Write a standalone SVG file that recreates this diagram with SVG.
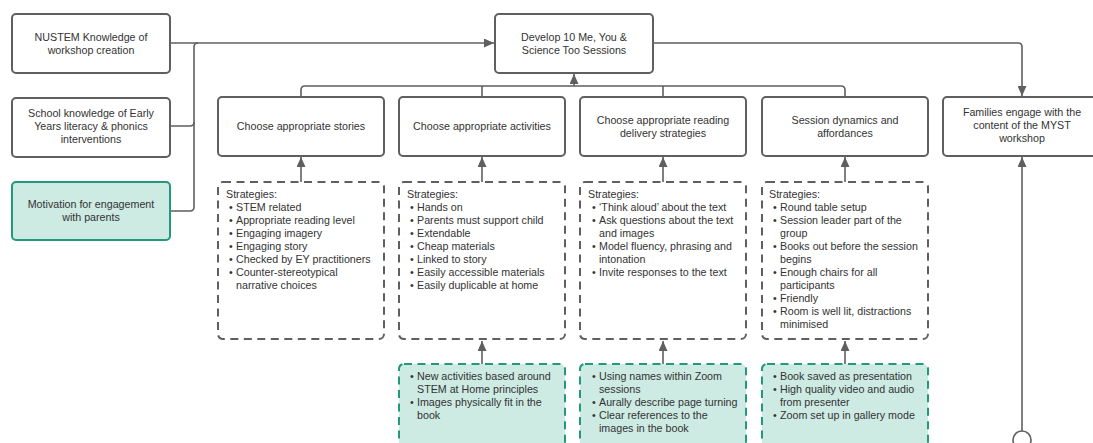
<svg xmlns="http://www.w3.org/2000/svg" width="1093" height="443" viewBox="0 0 1093 443">
<style>
.box{fill:#ffffff;stroke:#5f5f5f;stroke-width:2}
.teal{fill:#cdeae3;stroke:#23997c;stroke-width:2}
.dash{fill:#ffffff;stroke:#5f5f5f;stroke-width:2;stroke-dasharray:8 5.5}
.tdash{fill:#cdeae3;stroke:#23997c;stroke-width:2;stroke-dasharray:8 5.5}
text{font-family:"Liberation Sans",Arial,sans-serif;font-size:10.7px;fill:#333333}
.c{text-anchor:middle}
.con{fill:none;stroke:#5f5f5f;stroke-width:1.6}
</style>
<defs>
<marker id="arr" markerUnits="userSpaceOnUse" markerWidth="10" markerHeight="9" refX="10" refY="4.5" orient="auto">
<path d="M0,0 L10,4.5 L0,9 z" fill="#5f5f5f"/>
</marker>
</defs>
<g id="connectors">
<path class="con" d="M170,43 H494" marker-end="url(#arr)"/>
<path class="con" d="M170,126 H190 q4,0 4,-4 V47 q0,-4 4,-4"/>
<path class="con" d="M170,211 H190 q4,0 4,-4 V122"/>
<path class="con" d="M653,43 H1018 q4,0 4,4 V96" marker-end="url(#arr)"/>
<path class="con" d="M301,97 V90 q0,-4 4,-4 H841 q4,0 4,4 V97"/>
<path class="con" d="M482,97 V86"/>
<path class="con" d="M663,97 V86"/>
<path class="con" d="M574,86 V74" marker-end="url(#arr)"/>
<path class="con" d="M301,182 V157" marker-end="url(#arr)"/>
<path class="con" d="M482,182 V157" marker-end="url(#arr)"/>
<path class="con" d="M663,182 V157" marker-end="url(#arr)"/>
<path class="con" d="M845,182 V157" marker-end="url(#arr)"/>
<path class="con" d="M482,364 V341" marker-end="url(#arr)"/>
<path class="con" d="M663,364 V341" marker-end="url(#arr)"/>
<path class="con" d="M845,364 V341" marker-end="url(#arr)"/>
<path class="con" d="M1022,431 V157" marker-end="url(#arr)"/>
<circle cx="1022" cy="440" r="9" fill="#ffffff" stroke="#5f5f5f" stroke-width="1.6"/>
</g>
<g id="nustem">
<rect class="box" x="12" y="14" width="158" height="59" rx="4"/>
<text class="c" x="91" y="41">NUSTEM Knowledge of</text>
<text class="c" x="91" y="54">workshop creation</text>
</g>
<g id="school">
<rect class="box" x="12" y="98" width="158" height="59" rx="4"/>
<text class="c" x="91" y="117">School knowledge of Early</text>
<text class="c" x="91" y="130">Years literacy &amp; phonics</text>
<text class="c" x="91" y="143">interventions</text>
</g>
<g id="motivation">
<rect class="teal" x="12" y="182" width="158" height="58" rx="4"/>
<text class="c" x="91" y="208">Motivation for engagement</text>
<text class="c" x="91" y="221">with parents</text>
</g>
<g id="develop">
<rect class="box" x="495" y="14" width="158" height="59" rx="4"/>
<text class="c" x="574" y="41">Develop 10 Me, You &amp;</text>
<text class="c" x="574" y="54">Science Too Sessions</text>
</g>
<g id="stories">
<rect class="box" x="218" y="97" width="166" height="59" rx="4"/>
<text class="c" x="301" y="130">Choose appropriate stories</text>
</g>
<g id="activities">
<rect class="box" x="399" y="97" width="166" height="59" rx="4"/>
<text class="c" x="482" y="130">Choose appropriate activities</text>
</g>
<g id="reading">
<rect class="box" x="580" y="97" width="166" height="59" rx="4"/>
<text class="c" x="663" y="124">Choose appropriate reading</text>
<text class="c" x="663" y="137">delivery strategies</text>
</g>
<g id="dynamics">
<rect class="box" x="762" y="97" width="166" height="59" rx="4"/>
<text class="c" x="845" y="124">Session dynamics and</text>
<text class="c" x="845" y="137">affordances</text>
</g>
<g id="families">
<rect class="box" x="943" y="97" width="158" height="59" rx="4"/>
<text class="c" x="1022" y="116">Families engage with the</text>
<text class="c" x="1022" y="129">content of the MYST</text>
<text class="c" x="1022" y="142">workshop</text>
</g>
<g id="strategies-stories">
<rect class="dash" x="218" y="182" width="166" height="157" rx="5"/>
<text x="226" y="198">Strategies:</text>
<text x="229" y="211">•</text><text x="236" y="211">STEM related</text>
<text x="229" y="224">•</text><text x="236" y="224">Appropriate reading level</text>
<text x="229" y="237">•</text><text x="236" y="237">Engaging imagery</text>
<text x="229" y="250">•</text><text x="236" y="250">Engaging story</text>
<text x="229" y="263">•</text><text x="236" y="263">Checked by EY practitioners</text>
<text x="229" y="276">•</text><text x="236" y="276">Counter-stereotypical</text>
<text x="236" y="289">narrative choices</text>
</g>
<g id="strategies-activities">
<rect class="dash" x="399" y="182" width="166" height="157" rx="5"/>
<text x="407" y="198">Strategies:</text>
<text x="410" y="211">•</text><text x="417" y="211">Hands on</text>
<text x="410" y="224">•</text><text x="417" y="224">Parents must support child</text>
<text x="410" y="237">•</text><text x="417" y="237">Extendable</text>
<text x="410" y="250">•</text><text x="417" y="250">Cheap materials</text>
<text x="410" y="263">•</text><text x="417" y="263">Linked to story</text>
<text x="410" y="276">•</text><text x="417" y="276">Easily accessible materials</text>
<text x="410" y="289">•</text><text x="417" y="289">Easily duplicable at home</text>
</g>
<g id="strategies-reading">
<rect class="dash" x="580" y="182" width="166" height="157" rx="5"/>
<text x="588" y="198">Strategies:</text>
<text x="592" y="211">•</text><text x="599" y="211">‘Think aloud’ about the text</text>
<text x="592" y="224">•</text><text x="599" y="224">Ask questions about the text</text>
<text x="599" y="237">and images</text>
<text x="592" y="250">•</text><text x="599" y="250">Model fluency, phrasing and</text>
<text x="599" y="263">intonation</text>
<text x="592" y="276">•</text><text x="599" y="276">Invite responses to the text</text>
</g>
<g id="strategies-dynamics">
<rect class="dash" x="762" y="182" width="166" height="157" rx="5"/>
<text x="769" y="198">Strategies:</text>
<text x="773" y="211">•</text><text x="780" y="211">Round table setup</text>
<text x="773" y="224">•</text><text x="780" y="224">Session leader part of the</text>
<text x="780" y="237">group</text>
<text x="773" y="250">•</text><text x="780" y="250">Books out before the session</text>
<text x="780" y="263">begins</text>
<text x="773" y="276">•</text><text x="780" y="276">Enough chairs for all</text>
<text x="780" y="289">participants</text>
<text x="773" y="302">•</text><text x="780" y="302">Friendly</text>
<text x="773" y="315">•</text><text x="780" y="315">Room is well lit, distractions</text>
<text x="780" y="328">minimised</text>
</g>
<g id="online-activities">
<rect class="tdash" x="399" y="364" width="166" height="100" rx="5"/>
<text x="410" y="380">•</text><text x="417" y="380">New activities based around</text>
<text x="417" y="393">STEM at Home principles</text>
<text x="410" y="406">•</text><text x="417" y="406">Images physically fit in the</text>
<text x="417" y="419">book</text>
</g>
<g id="online-reading">
<rect class="tdash" x="580" y="364" width="166" height="100" rx="5"/>
<text x="592" y="380">•</text><text x="599" y="380">Using names within Zoom</text>
<text x="599" y="393">sessions</text>
<text x="592" y="406">•</text><text x="599" y="406">Aurally describe page turning</text>
<text x="592" y="419">•</text><text x="599" y="419">Clear references to the</text>
<text x="599" y="432">images in the book</text>
</g>
<g id="online-dynamics">
<rect class="tdash" x="762" y="364" width="166" height="100" rx="5"/>
<text x="773" y="380">•</text><text x="780" y="380">Book saved as presentation</text>
<text x="773" y="393">•</text><text x="780" y="393">High quality video and audio</text>
<text x="780" y="406">from presenter</text>
<text x="773" y="419">•</text><text x="780" y="419">Zoom set up in gallery mode</text>
</g>
</svg>
